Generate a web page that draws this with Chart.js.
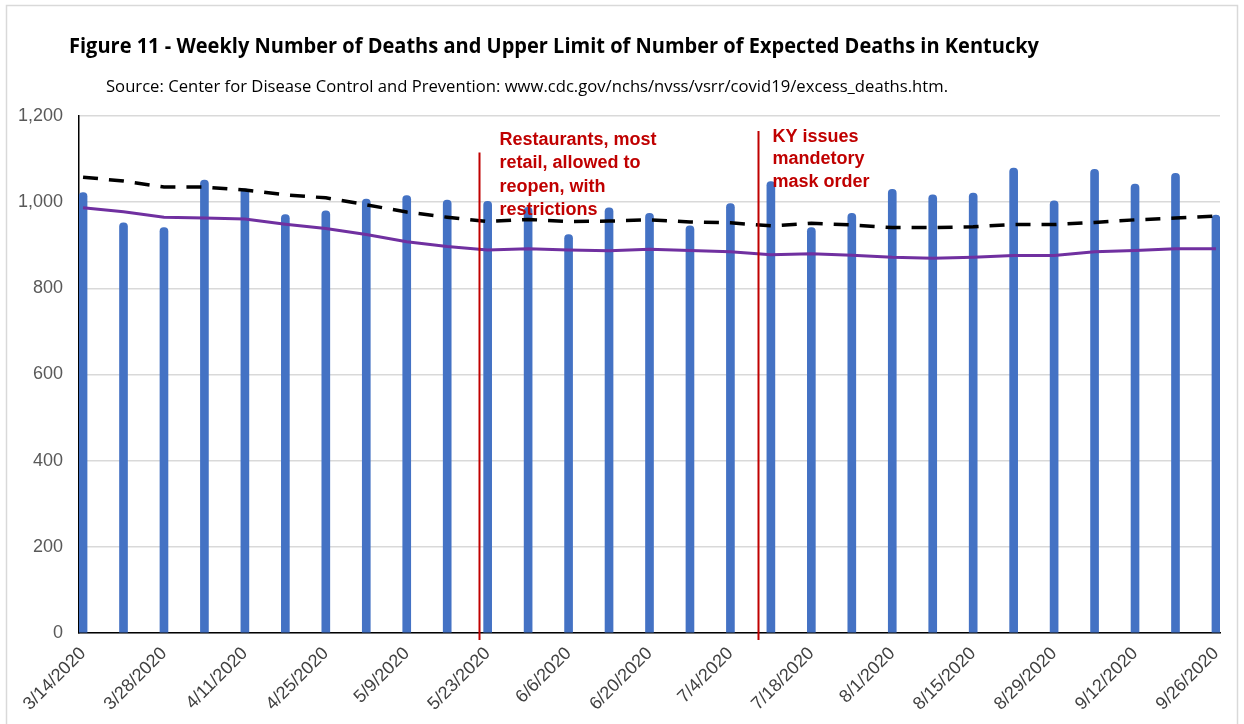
<!DOCTYPE html>
<html>
<head>
<meta charset="utf-8">
<script src="https://cdn.jsdelivr.net/npm/chart.js@4.4.1/dist/chart.umd.min.js"></script>
<style>
  html, body { margin: 0; padding: 0; background: #fff; }
  #wrap { width: 1244px; height: 724px; position: relative; }
</style>
</head>
<body>
<div id="wrap"><canvas id="kyChart" width="1244" height="724"></canvas></div>
<script>
// weekly data, Kentucky, week ending dates
const weekLabels = ['3/14/2020','3/21/2020','3/28/2020','4/4/2020','4/11/2020','4/18/2020','4/25/2020','5/2/2020',
  '5/9/2020','5/16/2020','5/23/2020','5/30/2020','6/6/2020','6/13/2020','6/20/2020','6/27/2020','7/4/2020',
  '7/11/2020','7/18/2020','7/25/2020','8/1/2020','8/8/2020','8/15/2020','8/22/2020','8/29/2020','9/5/2020',
  '9/12/2020','9/19/2020','9/26/2020'];

const weeklyDeaths = [1022, 952, 941, 1051, 1031, 971, 980, 1007, 1015, 1005, 1002, 988, 925, 987, 974,
  945, 997, 1048, 941, 974, 1030, 1017, 1021, 1079, 1003, 1076, 1042, 1067, 970];

const upperLimit = [1058, 1049, 1035, 1035, 1028, 1017, 1010, 994, 977, 965, 955, 960, 955, 956, 959,
  954, 952, 945, 951, 947, 941, 941, 943, 948, 948, 953, 959, 963, 968];

const expectedDeaths = [987, 978, 965, 963, 961, 949, 939, 925, 908, 897, 889, 892, 889, 887, 891,
  888, 885, 878, 880, 877, 872, 870, 872, 876, 876, 885, 888, 892, 892];

const yTicks = [0, 200, 400, 600, 800, 1000, 1200];

// event markers (position in weeks from 3/14) and their notes
const eventWeeks = [9.79, 16.69];
const eventTops = [1115, 1165];
const eventNotes = [
  ['Restaurants, most', 'retail, allowed to', 'reopen, with', 'restrictions'],
  ['KY issues', 'mandetory', 'mask order']
];

const titleText = 'Figure 11 - Weekly Number of Deaths and Upper Limit of Number of Expected Deaths in Kentucky';
const sourceText = 'Source: Center for Disease Control and Prevention: www.cdc.gov/nchs/nvss/vsrr/covid19/excess_deaths.htm.';

function fitText(ctx, txt, x, y, w) {
  const m = ctx.measureText(txt).width;
  ctx.save();
  ctx.translate(x, y);
  ctx.scale(w / m, 1);
  ctx.fillText(txt, 0, 0);
  ctx.restore();
}

const decorPlugin = {
  id: 'decor',
  beforeDraw(chart) {
    const ctx = chart.ctx;
    ctx.save();
    ctx.strokeStyle = '#d9d9d9';
    ctx.lineWidth = 1.5;
    ctx.strokeRect(6.5, 5.5, 1231, 730);
    ctx.fillStyle = '#000';
    ctx.textBaseline = 'alphabetic';
    ctx.font = 'bold 21px "Open Sans", "Liberation Sans", sans-serif';
    fitText(ctx, titleText, 69, 53, 970);
    ctx.font = '17px "Open Sans", "Liberation Sans", sans-serif';
    fitText(ctx, sourceText, 106, 92, 842);
    ctx.restore();
  },
  afterDatasetsDraw(chart) {
    const ctx = chart.ctx;
    const xs = chart.scales.x, ys = chart.scales.y;
    ctx.save();
    ctx.strokeStyle = '#c00000';
    ctx.fillStyle = '#c00000';
    ctx.lineWidth = 2;
    ctx.font = 'bold 18px "Liberation Sans", Arial, sans-serif';
    ctx.textBaseline = 'middle';
    eventWeeks.forEach((wk, i) => {
      const px = Math.round(xs.getPixelForValue(wk)) + 0.5;
      const top = ys.getPixelForValue(eventTops[i]);
      ctx.beginPath();
      ctx.moveTo(px, top);
      ctx.lineTo(px, chart.chartArea.bottom + 7);
      ctx.stroke();
      const lh = i === 0 ? 23.3 : 22.5;
      const y0 = i === 0 ? 140 : 137;
      eventNotes[i].forEach((ln, j) => {
        ctx.fillText(ln, px + (i === 0 ? 20 : 14), y0 + j * lh);
      });
    });
    ctx.restore();
  }
};

const ctx = document.getElementById('kyChart').getContext('2d');
new Chart(ctx, {
  type: 'bar',
  data: {
    datasets: [
      {
        type: 'line',
        label: 'Upper limit',
        data: upperLimit.map((v, i) => ({ x: i, y: v })),
        borderColor: '#000',
        borderWidth: 3.5,
        borderDash: [15, 11],
        pointRadius: 0,
        tension: 0,
        order: 1
      },
      {
        type: 'line',
        label: 'Expected',
        data: expectedDeaths.map((v, i) => ({ x: i, y: v })),
        borderColor: '#7030a0',
        borderWidth: 3,
        pointRadius: 0,
        tension: 0,
        order: 2
      },
      {
        label: 'Weekly deaths',
        data: weeklyDeaths.map((v, i) => ({ x: i, y: v })),
        backgroundColor: '#4472c4',
        barThickness: 8,
        borderRadius: { topLeft: 4, topRight: 4 },
        borderSkipped: 'start',
        order: 3
      }
    ]
  },
  options: {
    responsive: false,
    animation: false,
    layout: { padding: { left: 0, right: 24, top: 116, bottom: 0 } },
    plugins: { legend: { display: false }, tooltip: { enabled: false } },
    scales: {
      x: {
        type: 'linear',
        offset: false,
        min: -0.1,
        max: 28.1,
        afterBuildTicks: (s) => {
          s.ticks = weekLabels.map((d, i) => ({ value: i })).filter(t => t.value % 2 === 0);
        },
        afterFit: (s) => { s.height = 91; },
        grid: { display: false, drawTicks: false, offset: false },
        border: { display: true, color: '#000', width: 1.5 },
        ticks: {
          autoSkip: false,
          maxRotation: 45,
          minRotation: 45,
          padding: 10,
          color: '#404040',
          font: { size: 18, family: '"Liberation Sans", Arial, sans-serif' },
          callback: (v) => weekLabels[v]
        }
      },
      y: {
        min: 0,
        max: 1200,
        afterBuildTicks: (s) => { s.ticks = yTicks.map(v => ({ value: v })); },
        afterFit: (s) => { s.width = 79; },
        grid: { color: '#d9d9d9', lineWidth: 1.5, drawTicks: false },
        border: { display: true, color: '#000', width: 1.5 },
        ticks: {
          padding: 16,
          color: '#595959',
          font: { size: 18, family: '"Liberation Sans", Arial, sans-serif' },
          callback: (v) => v.toLocaleString('en-US')
        }
      }
    }
  },
  plugins: [decorPlugin]
});
</script>
</body>
</html>
